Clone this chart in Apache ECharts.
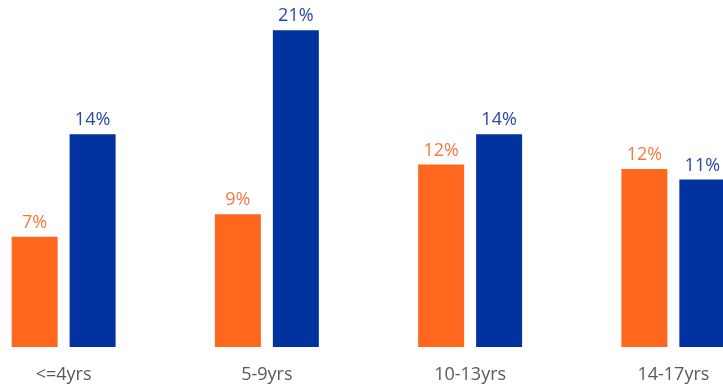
<!DOCTYPE html>
<html><head><meta charset="utf-8">
<script src="https://cdn.jsdelivr.net/npm/echarts@6/dist/echarts.min.js"></script>
<style>html,body{margin:0;padding:0;background:#fff;overflow:hidden;width:723px;height:388px}#c{position:absolute;left:-38px;top:0;width:813px;height:388px}</style>
</head><body><div id="c"></div>
<script>
const categories = ["<=4yrs", "5-9yrs", "10-13yrs", "14-17yrs"];
const seriesA = [7.3, 8.8, 12.1, 11.8];
const seriesB = [14.1, 21.0, 14.1, 11.1];
const labelsA = ["7%", "9%", "12%", "12%"];
const labelsB = ["14%", "21%", "14%", "11%"];

const chart = echarts.init(document.getElementById('c'));
const fontFam = "'Open Sans', 'Liberation Sans', sans-serif";
chart.setOption({
  animation: false,
  grid: { left: 0, right: 0, top: 0, bottom: 41 },
  xAxis: {
    type: 'category', data: categories,
    axisLine: { show: false }, axisTick: { show: false },
    axisLabel: { color: '#595959', fontSize: 18, fontFamily: fontFam, margin: 19 }
  },
  yAxis: { type: 'value', min: 0, max: 23, show: false, splitLine: { show: false } },
  series: [
    { type: 'bar', data: seriesA, barWidth: 46, barGap: '26%',
      itemStyle: { color: '#FF671F' },
      label: { show: true, position: 'top', distance: 5, color: '#F47A42', fontSize: 18, fontFamily: fontFam,
        formatter: p => labelsA[p.dataIndex] } },
    { type: 'bar', data: seriesB, barWidth: 46,
      itemStyle: { color: '#0033A0' },
      label: { show: true, position: 'top', distance: 5, color: '#2A48A8', fontSize: 18, fontFamily: fontFam,
        formatter: p => labelsB[p.dataIndex] } }
  ]
});
</script></body></html>
